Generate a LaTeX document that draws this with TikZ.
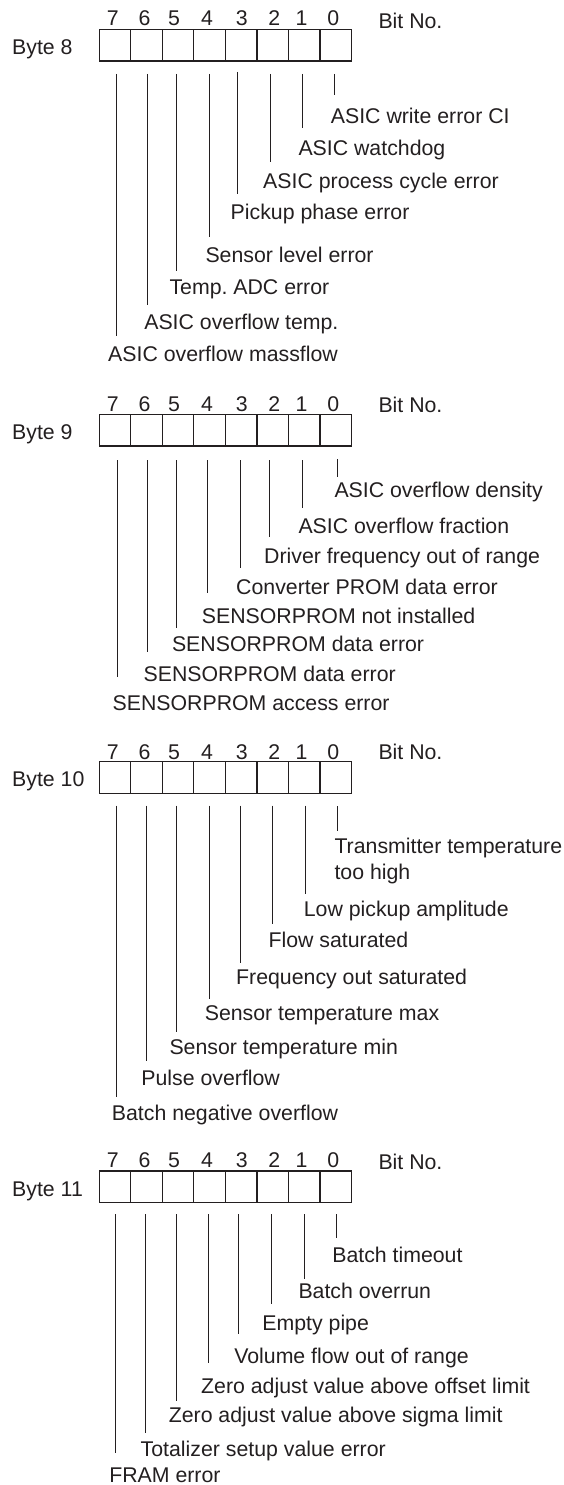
\documentclass[tikz,border=0pt]{standalone}
\usepackage{fontspec}
\setmainfont{Liberation Sans}
\definecolor{ink}{RGB}{35,31,32}
\frenchspacing
\newcommand\mkbyte[5]{%
  % #1 byte no, #2 box top, #3 byte label centre y, #4 digit centre y, #5 Bit No. centre y
  \foreach \b in {0,...,7}{%
    \pgfmathsetmacro\cx{99.2+31.54*(7-\b)+15.77}%
    \node[cell] (c#1-\b) at (\cx,#2+15.85) {};
  }
  \foreach \b/\dx in {7/112.7,6/144.5,5/174,4/207,3/241.7,2/274.2,1/301.6,0/333.4}{%
    \node[num] (d#1-\b) at (\dx,#4+7.6) {\b};
  }
  \node[lbl] (byte#1) at (12,#3+7.6) {Byte #1};
  \node[lbl] (bitno#1) at (378.3,#5+7.6) {Bit No.};
}
\begin{document}
\begin{tikzpicture}[x=1pt,y=-1pt,
  lbl/.style={anchor=base west,inner sep=0pt,align=left,text=ink,
    font=\fontsize{21.3}{25.7}\selectfont\frenchspacing},
  num/.style={anchor=base,inner sep=0pt,text=ink,font=\fontsize{21.3}{25.7}\selectfont},
  cell/.style={draw=ink,line width=1.2pt,minimum width=31.54pt,minimum height=31.7pt,inner sep=0pt},
  lead/.style={draw=ink,line width=1pt}]
\useasboundingbox (0,0) rectangle (563,1485);

% ---------------- Byte 8
\mkbyte{8}{29.3}{46.7}{18}{20.7}
\foreach \b/\lx/\lt/\le/\tx/\ty/\txt in {
  0/334.3/74/95/330.7/116/{ASIC write error CI},
  1/302.7/74/127.7/298.3/148.3/{ASIC watchdog},
  2/270/74/161.7/263/181/{ASIC process cycle error},
  3/237.3/72/194/230.5/212.3/{Pickup phase error},
  4/209.3/74/237.3/205.3/255/{Sensor level error},
  5/176.7/74/270.7/169.3/286.7/{Temp. ADC error},
  6/147.7/74/305/144.1/322.3/{ASIC overflow temp.},
  7/116/74/336/108/354.3/{ASIC overflow massflow}}{%
  \coordinate (t8-\b) at (\lx,\lt);
  \coordinate (e8-\b) at (\lx,\le);
  \node[lbl] (l8-\b) at (\tx,\ty+7.6) {\txt};
  \draw[lead] (t8-\b) -- (e8-\b);
}

% ---------------- Byte 9
\mkbyte{9}{414.3}{431.7}{404}{405}
\foreach \b/\lx/\lt/\le/\tx/\ty/\txt in {
  0/337.5/459/477.3/334.3/490/{ASIC overflow density},
  1/302.6/460/507.7/298.3/525.7/{ASIC overflow fraction},
  2/269.5/460/536.7/264/555.7/{Driver frequency out of range},
  3/240.3/460/568.3/236/586.7/{Converter PROM data error},
  4/207.9/460/593.3/201.7/615.7/{SENSORPROM not installed},
  5/176.5/460/628.3/171.8/644.3/{SENSORPROM data error},
  6/147.7/460/651.7/143.4/674/{SENSORPROM data error},
  7/117.8/460/677.3/112.4/702.7/{SENSORPROM access error}}{%
  \coordinate (t9-\b) at (\lx,\lt);
  \coordinate (e9-\b) at (\lx,\le);
  \node[lbl] (l9-\b) at (\tx,\ty+7.6) {\txt};
  \draw[lead] (t9-\b) -- (e9-\b);
}

% ---------------- Byte 10
\mkbyte{10}{761.7}{779}{751.7}{751.7}
\foreach \b/\lx/\lt/\le/\tx/\ty/\txt in {
  0/337.5/806/831/334.3/871.7/{Transmitter temperature\\too high},
  1/305.8/805.5/894/303.7/909/{Low pickup amplitude},
  2/272.7/805.5/924.3/268.4/940/{Flow saturated},
  3/240.3/805.5/963.3/236/977.3/{Frequency out saturated},
  4/209.7/805.5/999/204.6/1012.7/{Sensor temperature max},
  5/176.9/805.5/1032.3/169.3/1046.7/{Sensor temperature min},
  6/146.6/805.5/1060.7/141.2/1078.3/{Pulse overflow},
  7/116/805.5/1096.7/111.7/1113.3/{Batch negative overflow}}{%
  \coordinate (t10-\b) at (\lx,\lt);
  \coordinate (e10-\b) at (\lx,\le);
  \node[lbl] (l10-\b) at (\tx,\ty+7.6) {\txt};
  \draw[lead] (t10-\b) -- (e10-\b);
}

% ---------------- Byte 11
\mkbyte{11}{1171}{1189.3}{1160}{1162}
\foreach \b/\lx/\lt/\le/\tx/\ty/\txt in {
  0/336.8/1214.3/1238.3/332.1/1255/{Batch timeout},
  1/304.4/1214.3/1279/298.3/1290.7/{Batch overrun},
  2/271.3/1214.3/1304/262.2/1322.7/{Empty pipe},
  3/238.8/1214.3/1334.3/234.1/1356/{Volume flow out of range},
  4/208.2/1214.3/1363.3/201/1386/{Zero adjust value above offset limit},
  5/176.2/1214.3/1401/168.6/1415/{Zero adjust value above sigma limit},
  6/145.9/1214.3/1433.3/140.5/1449/{Totalizer setup value error},
  7/115.3/1214.3/1452.7/109.1/1475/{FRAM error}}{%
  \coordinate (t11-\b) at (\lx,\lt);
  \coordinate (e11-\b) at (\lx,\le);
  \node[lbl] (l11-\b) at (\tx,\ty+7.6) {\txt};
  \draw[lead] (t11-\b) -- (e11-\b);
}
\end{tikzpicture}
\end{document}
